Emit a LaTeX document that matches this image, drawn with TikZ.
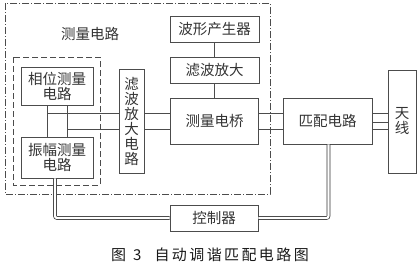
\documentclass[tikz,border=0pt]{standalone}
\usepackage{fontspec}
\setmainfont{Noto Sans CJK SC}
\newfontfamily\capfont[LetterSpace=16]{Noto Sans CJK SC}
\usetikzlibrary{calc}

\begin{document}
\begin{tikzpicture}[x=1pt, y=-1pt,
    every node/.style={font=\fontsize{14.5}{15}\selectfont, text=black!80},
    blk/.style={draw=black!70, line width=0.7pt, inner sep=0pt, align=center},
    wire/.style={draw=black!70, line width=0.6pt},
    dbl/.style={draw=black!80, double=white, double distance=2.2pt, line width=0.7pt, rounded corners=2pt},
    frame/.style={draw=black!70, line width=0.6pt, dash pattern=on 7pt off 2pt on 1pt off 2pt},
    subframe/.style={draw=black!70, line width=0.6pt, dash pattern=on 6pt off 3pt}
  ]
  \useasboundingbox (0,0) rectangle (418,265);

  % measuring circuit frames
  \draw[frame] (5,3) rectangle (270,194);
  \draw[subframe] (13,57) rectangle (100,185);
  \node (title) at (90,34) {测量电路};

  % blocks
  \node[blk, minimum width=89pt, minimum height=26pt] (wave) at (214.5,29) {波形产生器};
  \node[blk, minimum width=89pt, minimum height=26pt] (filt) at (214.5,70) {滤波放大};
  \node[blk, minimum width=88pt, minimum height=46pt] (bridge) at (214.5,121) {测量电桥};
  \node[blk, minimum width=89pt, minimum height=46pt] (match) at (327.5,121) {匹配电路};
  \node[blk, minimum width=28pt, minimum height=103pt] (ant) at (402,121.5) {天\\线};
  \node[blk, minimum width=25pt, minimum height=104pt] (amp) at (131.5,121) {滤\\波\\放\\大\\电\\路};
  \node[blk, minimum width=72pt, minimum height=38pt] (phase) at (57,86) {相位测量\\电路};
  \node[blk, minimum width=72pt, minimum height=41pt] (ampl) at (57,157.5) {振幅测量\\电路};
  \node[blk, minimum width=88pt, minimum height=26pt] (ctrl) at (214,218) {控制器};

  % caption
  \node[font=\capfont\fontsize{15}{16}\selectfont, text=black!90] (cap) at (210,255) {图\hspace{7pt}3\hspace{13pt}自动调谐匹配电路图};

  % signal wires
  \coordinate (ja) at (47,113);
  \coordinate (jb) at (67,129);
  \coordinate (jc) at (380,122);
  \draw[wire] (wave) -- (filt);
  \draw[wire] (filt) -- (bridge);
  \draw[wire] ([xshift=-10pt]phase.south) -- ([xshift=-10pt]ampl.north);
  \draw[wire] ([xshift=10pt]phase.south) -- ([xshift=10pt]ampl.north);
  \foreach \j in {ja,jb}{
    \draw[wire] (\j) -- (\j -| amp.west);
    \draw[wire] (\j -| amp.east) -- (\j -| bridge.west);
    \draw[wire] (\j -| bridge.east) -- (\j -| match.west);
    \draw[wire] (\j -| match.east) -- (\j -| ant.west);
  }
  \draw[wire] (jc -| match.east) -- (jc -| ant.west);

  % control loop
  \draw[dbl] ([xshift=-2pt]ampl.south) |- (ctrl.west);
  \draw[dbl] (ctrl.east) -| ([xshift=1pt]match.south);
\end{tikzpicture}
\end{document}
